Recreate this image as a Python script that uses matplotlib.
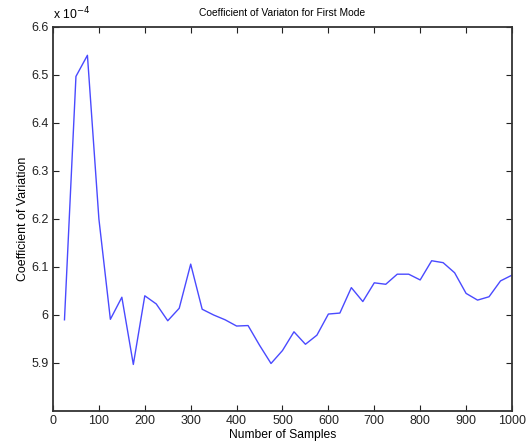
import numpy as np
import matplotlib.pyplot as plt
from matplotlib.ticker import FixedLocator, FuncFormatter

plt.rcParams['font.family'] = ['Liberation Sans', 'DejaVu Sans']

# Dados (coeficiente x 1e-4)
amostras = np.arange(25, 1001, 25)
cv = [5.990, 6.497, 6.541, 6.200, 5.991, 6.037, 5.897, 6.040, 6.023, 5.988,
      6.014, 6.106, 6.012, 6.000, 5.990, 5.977, 5.978, 5.937, 5.899, 5.926,
      5.965, 5.939, 5.958, 6.002, 6.004, 6.057, 6.028, 6.067, 6.064, 6.085,
      6.085, 6.073, 6.113, 6.109, 6.088, 6.045, 6.031, 6.038, 6.071, 6.083]
yticks = [5.9, 6.0, 6.1, 6.2, 6.3, 6.4, 6.5, 6.6]

fig = plt.figure(figsize=(5.3, 4.45), dpi=100)
ax = fig.add_axes([0.1, 0.0764, 0.866, 0.863])
ax.plot(amostras, np.array(cv) * 1e-4, color='#4a4aff', lw=1.0)

ax.set_xlim(0, 1000)
ax.set_ylim(5.8e-4, 6.6e-4)
ax.xaxis.set_major_locator(FixedLocator(np.arange(0, 1001, 100)))
ax.yaxis.set_major_locator(FixedLocator(np.array(yticks) * 1e-4))
ax.yaxis.set_major_formatter(FuncFormatter(lambda v, p: f"{v * 1e4:g}"))
ax.tick_params(direction='in', top=True, right=True, length=4, width=0.8,
               labelsize=9, colors='#222222', pad=3)
for s in ax.spines.values():
    s.set_linewidth(1.3)
    s.set_color('#333333')

ax.set_title('Coefficient of Variaton for First Mode', fontsize=7.4, pad=8)
ax.set_xlabel('Number of Samples', fontsize=8.7, labelpad=1)
ax.set_ylabel('Coefficient of Variation', fontsize=8.9, labelpad=2)
ax.text(0.0, 1.012, r'x 10$^{-4}$', transform=ax.transAxes, fontsize=8.7,
        va='bottom', ha='left')

plt.savefig('out.png', dpi=100)
